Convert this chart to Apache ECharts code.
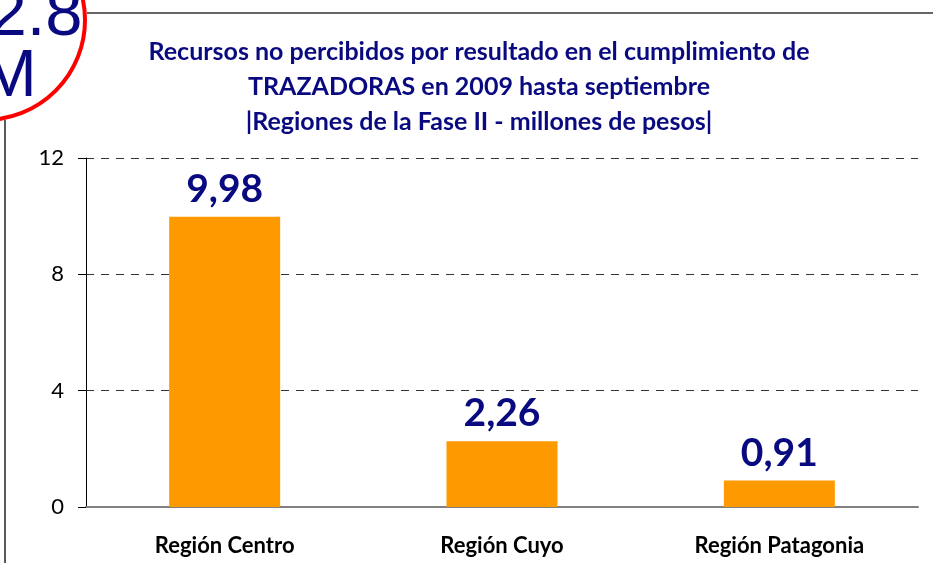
<!DOCTYPE html>
<html>
<head>
<meta charset="utf-8">
<script src="https://cdn.jsdelivr.net/npm/echarts@6/dist/echarts.min.js"></script>
<style>html,body{margin:0;padding:0;background:#fff;}#c{width:933px;height:563px;}</style>
</head>
<body>
<div id="c"></div>
<script>
var categories = ['Región Centro', 'Región Cuyo', 'Región Patagonia'];
var values = [9.98, 2.26, 0.91];
var valueLabels = ['9,98', '2,26', '0,91'];
var yTicks = [0, 4, 8, 12];
var titleLines = ['Recursos no percibidos por resultado en el cumplimiento de', 'TRAZADORAS en 2009 hasta septiembre', '|Regiones de la Fase II - millones de pesos|'];
var badgeLines = ['2.8', 'M'];

var navy = '#0a0a80';
var font = 'Lato, "Open Sans", sans-serif';
var chart = echarts.init(document.getElementById('c'));
chart.setOption({
  animation: false,
  backgroundColor: '#fff',
  title: {
    text: titleLines.join('\n'),
    left: 474, top: 29, textAlign: 'center',
    textStyle: { color: navy, fontFamily: font, fontWeight: 'bold', fontSize: 25, lineHeight: 35 }
  },
  grid: { left: 86, right: 15, top: 158, bottom: 56 },
  xAxis: {
    type: 'category', data: categories,
    axisLine: { lineStyle: { color: '#808080', width: 2 } },
    axisTick: { show: false },
    axisLabel: { color: '#000', fontFamily: font, fontWeight: 'bold', fontSize: 22, margin: 28 }
  },
  yAxis: {
    type: 'value', min: yTicks[0], max: yTicks[yTicks.length - 1], interval: 4,
    axisLine: { show: true, lineStyle: { color: '#000', width: 1 } },
    axisTick: { show: true, length: 8, lineStyle: { color: '#000' } },
    axisLabel: { color: '#000', fontFamily: font, fontSize: 22, margin: 22 },
    splitLine: { lineStyle: { color: '#333', type: [8, 7], width: 1 } }
  },
  series: [{
    type: 'bar', data: values, barWidth: 111,
    itemStyle: { color: '#ff9900' },
    label: {
      show: true, position: 'top', distance: 8,
      formatter: function (p) { return valueLabels[p.dataIndex]; },
      color: navy, fontFamily: font, fontWeight: 'bold', fontSize: 39
    }
  }],
  graphic: [
    { type: 'line', shape: { x1: 87, y1: 13, x2: 933, y2: 13 }, style: { stroke: '#333', lineWidth: 1.5 } },
    { type: 'line', shape: { x1: 5, y1: 120, x2: 5, y2: 563 }, style: { stroke: '#222', lineWidth: 1.5 } },
    { type: 'circle', shape: { cx: -15, cy: 20, r: 100 }, style: { fill: '#fff', stroke: '#ff0000', lineWidth: 4 }, z: 10 },
    { type: 'text', x: 36, y: 50, z: 11, style: { text: badgeLines[0], fill: navy, font: '67px "Liberation Sans", Arial, sans-serif', textAlign: 'center', textVerticalAlign: 'bottom' } },
    { type: 'text', x: 9, y: 111, z: 11, style: { text: badgeLines[1], fill: navy, font: '67px "Liberation Sans", Arial, sans-serif', textAlign: 'center', textVerticalAlign: 'bottom' } }
  ]
});
</script>
</body>
</html>
